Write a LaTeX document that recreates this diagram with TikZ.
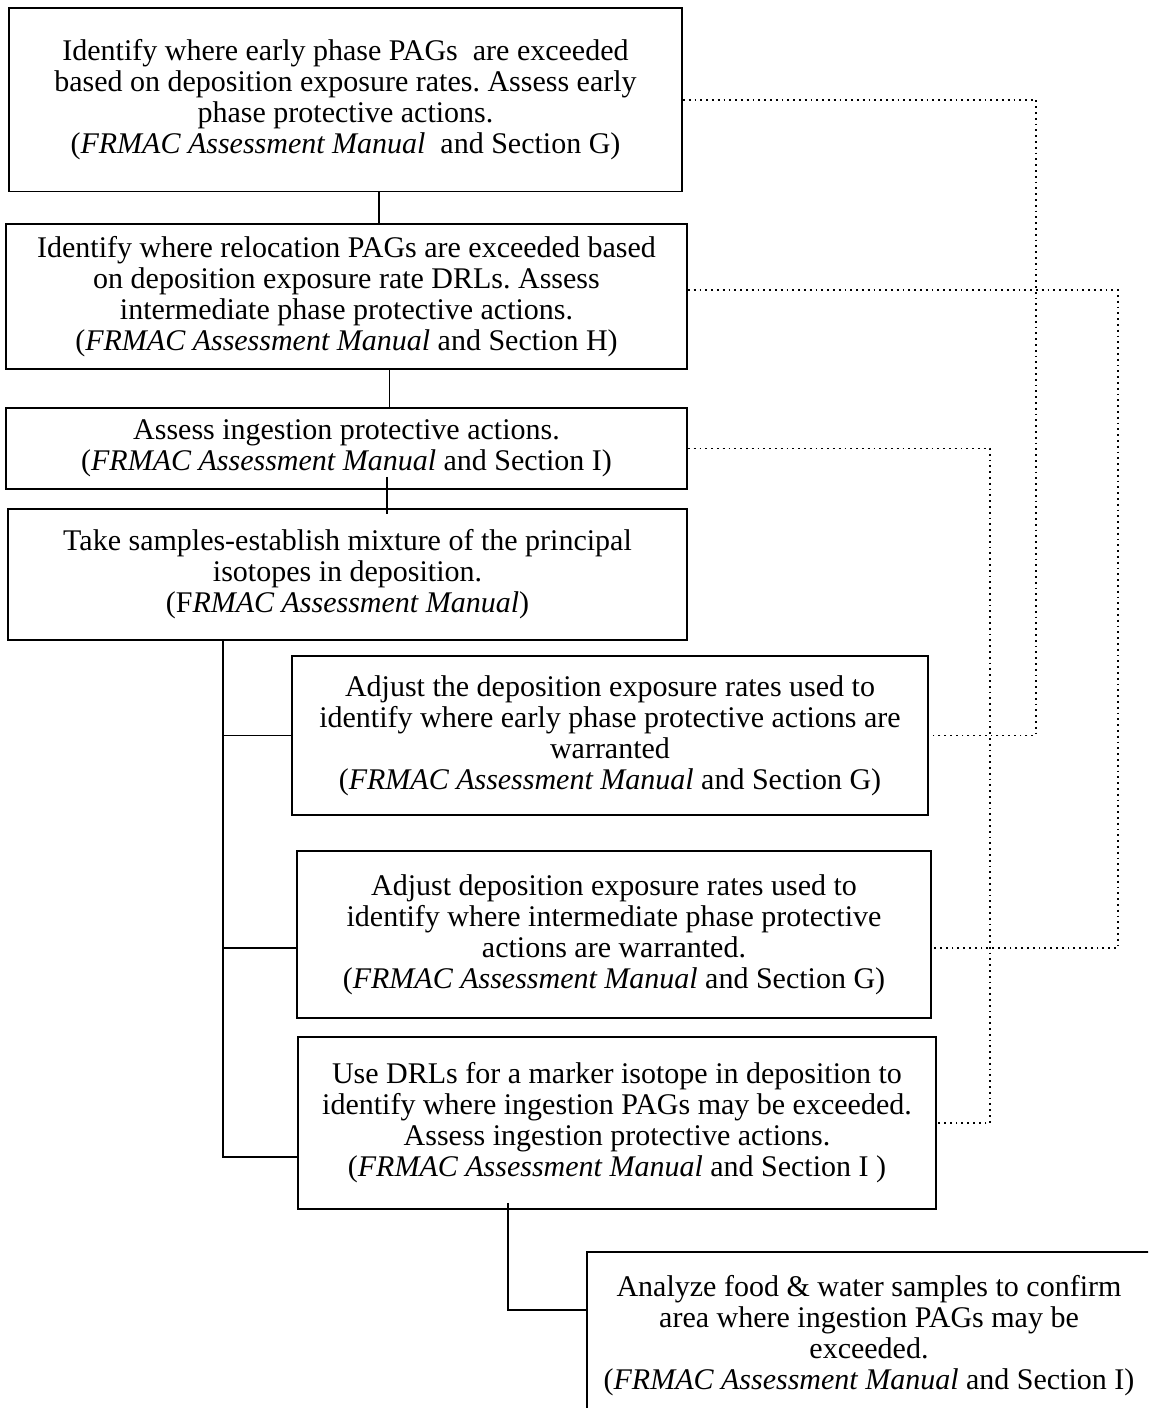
\documentclass[tikz,border=0pt]{standalone}
\usepackage{fontspec}
\setmainfont{Liberation Serif}
\frenchspacing
\begin{document}
\begin{tikzpicture}[x=0.5pt,y=-0.5pt,
    stepbox/.style={draw,line width=0.9pt,align=center,inner sep=0pt,font=\fontsize{15}{15.5}\selectfont},
    tie/.style={line width=0.8pt},
    feed/.style={dotted,line width=0.9pt}]
\useasboundingbox (0,0) rectangle (1148,1408);
\clip (0,0) rectangle (1148,1408);
\node[stepbox,minimum width=336.5pt,minimum height=91.75pt] (b1) at (345.5,99.75) {Identify where early phase PAGs\ \ are exceeded\\ based on deposition exposure rates. Assess early\\ phase protective actions.\\ (\textit{FRMAC Assessment Manual}\ \ and Section G)};
\node[stepbox,minimum width=340.5pt,minimum height=72.5pt] (b2) at (346.5,296.5) {Identify where relocation PAGs are exceeded based\\ on deposition exposure rate DRLs. Assess\\ intermediate phase protective actions.\\ (\textit{FRMAC Assessment Manual} and Section H)};
\node[stepbox,minimum width=340.5pt,minimum height=40.5pt] (b3) at (346.5,448.5) {Assess ingestion protective actions.\\ (\textit{FRMAC Assessment Manual} and Section I)};
\node[stepbox,minimum width=339.5pt,minimum height=65.5pt] (b4) at (347.5,574.5) {Take samples-establish mixture of the principal\\ isotopes in deposition.\\ (F\textit{RMAC Assessment Manual})};
\node[stepbox,minimum width=318pt,minimum height=79.5pt] (b5) at (610,735.5) {Adjust the deposition exposure rates used to\\ identify where early phase protective actions are\\ warranted\\ (\textit{FRMAC Assessment Manual} and Section G)};
\node[stepbox,minimum width=317.25pt,minimum height=83.5pt] (b6) at (614,934.5) {Adjust deposition exposure rates used to\\ identify where intermediate phase protective\\ actions are warranted.\\ (\textit{FRMAC Assessment Manual} and Section G)};
\node[stepbox,minimum width=318.75pt,minimum height=86pt] (b7) at (617,1123) {Use DRLs for a marker isotope in deposition to\\ identify where ingestion PAGs may be exceeded.\\ Assess ingestion protective actions.\\ (\textit{FRMAC Assessment Manual} and Section I )};
\node[stepbox,minimum width=282pt,minimum height=84pt] (b8) at (869,1336) {Analyze food \& water samples to confirm\\ area where ingestion PAGs may be\\ exceeded.\\ (\textit{FRMAC Assessment Manual} and Section I)};
\coordinate (c12) at (379,0);
\coordinate (c23) at (389.5,0);
\coordinate (c34) at (387,0);
\coordinate (trunk) at (223,0);
\coordinate (colA) at (990,0);
\coordinate (colB) at (1036,0);
\coordinate (colC) at (1118,0);
\coordinate (in6) at ([yshift=-6.75pt]b6.east);
\draw[tie] (b1.south -| c12) -- (b2.north -| c12);
\draw[tie] (b2.south -| c23) -- (b3.north -| c23);
\draw[tie,shorten <=-6.5pt,shorten >=-3pt] (b3.south -| c34) -- (b4.north -| c34);
\draw[tie] (b4.south -| trunk) |- ([yshift=-17pt]b7.west);
\draw[tie] (b5.west) -- (b5.west -| trunk);
\draw[tie] ([yshift=-6.75pt]b6.west) -- ([yshift=-6.75pt]b6.west -| trunk);
\draw[tie,shorten <=-3.5pt] ([xshift=-54.5pt]b7.south) |- ([yshift=13pt]b8.west);
\draw[feed] (b1.east) -| (colB |- b5.east) -- (b5.east);
\draw[feed] ([yshift=3.25pt]b2.east) -| (colC |- in6) -- (in6);
\draw[feed] (b3.east) -| (colA |- b7.east) -- (b7.east);
\end{tikzpicture}
\end{document}
